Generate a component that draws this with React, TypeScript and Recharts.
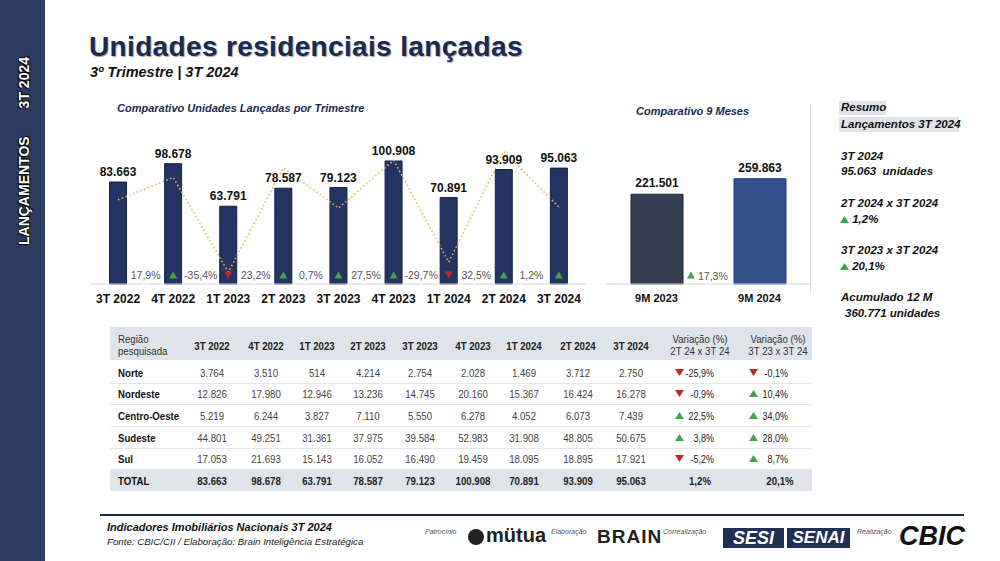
import React from 'react';
import {
  ComposedChart,
  BarChart,
  Bar,
  Line,
  XAxis,
  YAxis,
  Cell,
  LabelList,
} from 'recharts';

// dados trimestrais
const quarters = ['3T 2022', '4T 2022', '1T 2023', '2T 2023', '3T 2023', '4T 2023', '1T 2024', '2T 2024', '3T 2024'];
const launched = [83663, 98678, 63791, 78587, 79123, 100908, 70891, 93909, 95063];
// variação trimestral (%) - o primeiro ponto não tem rótulo
const qoqVar = [5.3, 17.9, -35.4, 23.2, 0.7, 27.5, -29.7, 32.5, 1.2];

// comparativo 9 meses
const nineMonths = ['9M 2023', '9M 2024'];
const nineMonthValues = [221501, 259863];
const nineMonthVar = 17.3;

// tabela por região
const regions = ['Norte', 'Nordeste', 'Centro-Oeste', 'Sudeste', 'Sul'];
const norte = [3764, 3510, 514, 4214, 2754, 2028, 1469, 3712, 2750];
const nordeste = [12826, 17980, 12946, 13236, 14745, 20160, 15367, 16424, 16278];
const centroOeste = [5219, 6244, 3827, 7110, 5550, 6278, 4052, 6073, 7439];
const sudeste = [44801, 49251, 31361, 37975, 39584, 52983, 31908, 48805, 50675];
const sul = [17053, 21693, 15143, 16052, 16490, 19459, 18095, 18895, 17921];
const varQoQ = [-25.9, -0.9, 22.5, 3.8, -5.2];
const varYoY = [-0.1, 10.4, 34.0, 28.0, 8.7];
const totalVarQoQ = 1.2;
const totalVarYoY = 20.1;
const accum12m = 360771;

const NAVY = '#1b2a4e';
const BAR = '#243462';
const GREEN = '#3fa44e';
const RED = '#c1272d';
const SANS = "'Liberation Sans', Arial, sans-serif";

const fmt = (n: number) => String(n).replace(/\B(?=(\d{3})+(?!\d))/g, '.');
const fmtPct = (v: number) => v.toFixed(1).replace('.', ',') + '%';

const chartData = quarters.map((q, i) => ({
  name: q,
  value: launched[i],
  variacao: qoqVar[i],
  rotulo: i === 0 ? null : qoqVar[i],
}));

const nineData = nineMonths.map((m, i) => ({ name: m, value: nineMonthValues[i] }));

const regionRows = [norte, nordeste, centroOeste, sudeste, sul];
const colCenters = [212, 266, 317, 368, 420, 473, 524, 578, 631];
const rowCenters = [373, 394, 416, 438, 459];

function tri(cx: number, cy: number, up: boolean, s = 4) {
  return up
    ? `M${cx - s},${cy + s * 0.9} L${cx + s},${cy + s * 0.9} L${cx},${cy - s * 0.9} Z`
    : `M${cx - s},${cy - s * 0.9} L${cx + s},${cy - s * 0.9} L${cx},${cy + s * 0.9} Z`;
}

const Tri = ({ up, size = 9 }: { up: boolean; size?: number }) => (
  <svg width={size} height={size} viewBox="0 0 10 10" style={{ display: 'inline-block', verticalAlign: 'middle' }}>
    <path d={up ? 'M0,9 L10,9 L5,1 Z' : 'M0,1 L10,1 L5,9 Z'} fill={up ? GREEN : RED} />
  </svg>
);

const VarLabel = (props: any) => {
  const { x, y, width, height, value } = props;
  if (value === null || value === undefined) return null;
  const v = Number(value);
  const cx = Number(x) + Number(width) / 2;
  const base = Number(y) + Number(height);
  return (
    <g>
      <path d={tri(cx, base - 9, v >= 0)} fill={v >= 0 ? GREEN : RED} />
      <text x={cx - 27.5} y={base - 8} textAnchor="middle" dominantBaseline="middle" fontSize={10.5} fill="#555" fontFamily={SANS}>
        {fmtPct(v)}
      </text>
    </g>
  );
};

const NineVarLabel = (props: any) => {
  const { x, y, height, index } = props;
  if (index !== 1) return null;
  const base = Number(y) + Number(height);
  const left = Number(x);
  return (
    <g>
      <path d={tri(left - 43, base - 9, nineMonthVar >= 0)} fill={GREEN} />
      <text x={left - 36} y={base - 7} dominantBaseline="middle" fontSize={10.5} fill="#555" fontFamily={SANS}>
        {fmtPct(nineMonthVar)}
      </text>
    </g>
  );
};

const abs = (left: number, top: number, extra: React.CSSProperties = {}): React.CSSProperties => ({
  position: 'absolute',
  left,
  top,
  ...extra,
});

// texto "estreito" da tabela: Arial comprimido horizontalmente
type Align = 'left' | 'center' | 'right';
const narrow = (left: number, top: number, align: Align, extra: React.CSSProperties = {}, sx = 0.84): React.CSSProperties => ({
  position: 'absolute',
  left,
  top,
  fontFamily: SANS,
  fontSize: 11.5,
  color: '#444',
  whiteSpace: 'nowrap',
  transform: `translate(${align === 'left' ? '0' : align === 'center' ? '-50%' : '-100%'}, -50%) scaleX(${sx})`,
  transformOrigin: `${align} center`,
  ...extra,
});

export default function App() {
  const summary = { fontFamily: SANS, fontSize: 11.5, fontStyle: 'italic' as const, fontWeight: 700, color: '#111', whiteSpace: 'nowrap' as const };
  const footSmall: React.CSSProperties = { fontFamily: SANS, fontSize: 7, fontStyle: 'italic', color: '#555', whiteSpace: 'nowrap' };
  const boldCell: React.CSSProperties = { fontWeight: 700, color: '#222' };
  const varCell: React.CSSProperties = { color: '#222' };

  return (
    <div style={{ position: 'absolute', left: 0, top: 0, width: 1000, height: 561, background: '#fff', overflow: 'hidden' }}>
      {/* barra lateral */}
      <div style={abs(0, 0, { width: 45, height: 561, background: '#2b3c60' })} />
      <div
        style={abs(-76, 141, {
          width: 200,
          height: 20,
          lineHeight: '20px',
          textAlign: 'center',
          transform: 'rotate(-90deg)',
          fontFamily: SANS,
          fontWeight: 900,
          fontSize: 14,
          color: '#fff',
          whiteSpace: 'nowrap',
          textShadow: '0 0 1px #000, 1px 1px 1px #000, -1px -1px 1px #000',
        })}
      >
        LANÇAMENTOS<span style={{ display: 'inline-block', width: 28 }} />3T 2024
      </div>

      {/* título */}
      <div style={abs(89, 31, { fontFamily: SANS, fontWeight: 900, fontSize: 28, letterSpacing: 0.35, color: NAVY, whiteSpace: 'nowrap', textShadow: '1px 1px 1px #9ba3b4' })}>
        Unidades residenciais lançadas
      </div>
      <div style={abs(90, 64, { fontFamily: SANS, fontWeight: 700, fontStyle: 'italic', fontSize: 14.5, color: '#111', whiteSpace: 'nowrap' })}>
        3º Trimestre | 3T 2024
      </div>

      {/* gráfico trimestral */}
      <div style={abs(117, 102, { fontFamily: SANS, fontWeight: 700, fontStyle: 'italic', fontSize: 11, color: NAVY, whiteSpace: 'nowrap' })}>
        Comparativo Unidades Lançadas por Trimestre
      </div>
      <div style={abs(80, 95)}>
        <ComposedChart width={520} height={215} data={chartData} margin={{ top: 42.7, right: 13.5, left: 10.5, bottom: 0 }}>
          <XAxis
            dataKey="name"
            height={26}
            axisLine={{ stroke: '#d9d9d9' }}
            tickLine={false}
            tickMargin={4}
            interval={0}
            tick={{ fill: '#111', fontSize: 12, fontWeight: 700, fontFamily: SANS }}
          />
          <YAxis yAxisId="v" hide domain={[0, 120000]} />
          <YAxis yAxisId="var" hide orientation="right" domain={[-42, 40.2]} />
          <Bar yAxisId="v" dataKey="value" barSize={17} fill={BAR} stroke="#17224a" strokeWidth={1} isAnimationActive={false}>
            <LabelList dataKey="value" position="top" offset={6} formatter={(v: any) => fmt(Number(v))} style={{ fill: '#111', fontSize: 12, fontWeight: 700, fontFamily: SANS }} />
            <LabelList dataKey="rotulo" content={VarLabel} />
          </Bar>
          <Line
            yAxisId="var"
            dataKey="variacao"
            type="linear"
            stroke="#f2b544"
            strokeWidth={1.6}
            strokeDasharray="1.5 2.5"
            dot={false}
            activeDot={false}
            isAnimationActive={false}
          />
        </ComposedChart>
      </div>

      {/* comparativo 9 meses */}
      <div style={abs(636, 105, { fontFamily: SANS, fontWeight: 700, fontStyle: 'italic', fontSize: 11, color: NAVY, whiteSpace: 'nowrap' })}>
        Comparativo 9 Meses
      </div>
      <div style={abs(600, 95)}>
        <BarChart width={220} height={215} data={nineData} margin={{ top: 42.7, right: 9, left: 5, bottom: 0 }}>
          <XAxis
            dataKey="name"
            height={26}
            axisLine={{ stroke: '#d9d9d9' }}
            tickLine={false}
            tickMargin={4}
            tick={{ fill: '#111', fontSize: 11, fontWeight: 700, fontFamily: SANS }}
          />
          <YAxis hide domain={[0, 361000]} />
          <Bar dataKey="value" barSize={52} isAnimationActive={false}>
            <Cell fill="#353f51" stroke="#1d2433" />
            <Cell fill="#35518d" stroke="#1e3a8c" />
            <LabelList dataKey="value" position="top" offset={7} formatter={(v: any) => fmt(Number(v))} style={{ fill: '#111', fontSize: 12, fontWeight: 700, fontFamily: SANS }} />
            <LabelList dataKey="value" content={NineVarLabel} />
          </Bar>
        </BarChart>
      </div>
      <div style={abs(810, 104, { width: 1, height: 190, background: '#e2e2e2' })} />

      {/* resumo */}
      <div style={abs(839, 101, { width: 47, height: 14, background: '#dfe3ea' })} />
      <div style={abs(839, 117, { width: 120, height: 15, background: '#dfe3ea' })} />
      <div style={abs(841, 101, summary)}>Resumo</div>
      <div style={abs(841, 118, summary)}>Lançamentos 3T 2024</div>
      <div style={abs(841, 150, summary)}>3T 2024</div>
      <div style={abs(841, 165, summary)}>{fmt(launched[8])}&nbsp; unidades</div>
      <div style={abs(841, 197, summary)}>2T 2024 x 3T 2024</div>
      <div style={abs(840, 213, summary)}><Tri up={totalVarQoQ >= 0} /> {fmtPct(totalVarQoQ)}</div>
      <div style={abs(841, 244, summary)}>3T 2023 x 3T 2024</div>
      <div style={abs(840, 260, summary)}><Tri up={totalVarYoY >= 0} /> {fmtPct(totalVarYoY)}</div>
      <div style={abs(841, 291, summary)}>Acumulado 12 M</div>
      <div style={abs(845, 307, summary)}>{fmt(accum12m)} unidades</div>

      {/* tabela */}
      <div style={abs(110, 327, { width: 702, height: 33, background: '#dfe3ea' })} />
      {rowCenters.map((rc, i) => (
        <div key={'ln' + i} style={abs(110, rc + 10, { width: 702, height: 1, background: '#e3e6ec' })} />
      ))}
      <div style={abs(110, 470, { width: 702, height: 21, background: '#dfe3ea' })} />
      <div style={narrow(118, 345, 'left', { color: '#333', lineHeight: '11.5px' })}>
        Região
        <br />
        pesquisada
      </div>
      {quarters.map((q, i) => (
        <div key={'h' + i} style={narrow(colCenters[i], 346, 'center', boldCell)}>{q}</div>
      ))}
      <div style={narrow(700, 345, 'center', { color: '#333', textAlign: 'center', lineHeight: '11.5px' })}>
        Variação (%)
        <br />
        2T 24 x 3T 24
      </div>
      <div style={narrow(778, 345, 'center', { color: '#333', textAlign: 'center', lineHeight: '11.5px' })}>
        Variação (%)
        <br />
        3T 23 x 3T 24
      </div>
      {regions.map((r, ri) => (
        <React.Fragment key={r}>
          <div style={narrow(118, rowCenters[ri], 'left', { color: '#111', fontWeight: 700 })}>{r}</div>
          {regionRows[ri].map((v, ci) => (
            <div key={ci} style={narrow(colCenters[ci], rowCenters[ri], 'center')}>{fmt(v)}</div>
          ))}
          <div style={abs(674.5, rowCenters[ri] - 5, { lineHeight: 0 })}><Tri up={varQoQ[ri] >= 0} size={9} /></div>
          <div style={narrow(714, rowCenters[ri], 'right', varCell, 0.78)}>{fmtPct(varQoQ[ri])}</div>
          <div style={abs(748.5, rowCenters[ri] - 5, { lineHeight: 0 })}><Tri up={varYoY[ri] >= 0} size={9} /></div>
          <div style={narrow(788, rowCenters[ri], 'right', varCell, 0.78)}>{fmtPct(varYoY[ri])}</div>
        </React.Fragment>
      ))}
      <div style={narrow(118, 481, 'left', { color: '#111', fontWeight: 700 })}>TOTAL</div>
      {launched.map((v, ci) => (
        <div key={'t' + ci} style={narrow(colCenters[ci], 481, 'center', boldCell)}>{fmt(v)}</div>
      ))}
      <div style={narrow(700, 481, 'center', boldCell)}>{fmtPct(totalVarQoQ)}</div>
      <div style={narrow(780, 481, 'center', boldCell)}>{fmtPct(totalVarYoY)}</div>

      {/* rodapé */}
      <div style={abs(100, 514, { width: 864, height: 2, background: NAVY })} />
      <div style={abs(107, 521, { fontFamily: SANS, fontSize: 11, fontWeight: 700, fontStyle: 'italic', color: '#111', whiteSpace: 'nowrap' })}>
        Indicadores Imobiliários Nacionais 3T 2024
      </div>
      <div style={abs(107, 536, { fontFamily: SANS, fontSize: 9.7, fontStyle: 'italic', color: '#222', whiteSpace: 'nowrap' })}>
        Fonte: CBIC/CII / Elaboração: Brain Inteligência Estratégica
      </div>
      <div style={abs(425, 528, footSmall)}>Patrocínio</div>
      <div style={abs(468, 529, { width: 16, height: 16, borderRadius: 8, background: '#222' })} />
      <div style={abs(486, 524, { fontFamily: SANS, fontWeight: 900, fontSize: 20, color: '#222', whiteSpace: 'nowrap', lineHeight: '22px' })}>mütua</div>
      <div style={abs(551, 528, footSmall)}>Elaboração</div>
      <div style={abs(597, 526, { fontFamily: SANS, fontWeight: 900, fontSize: 19, letterSpacing: 1, color: '#222', whiteSpace: 'nowrap', lineHeight: '22px' })}>BRAIN</div>
      <div style={abs(663, 528, footSmall)}>Correalização</div>
      <div style={abs(723, 528, { width: 61, height: 20, background: '#1f2f55', color: '#fff', fontFamily: SANS, fontWeight: 900, fontStyle: 'italic', fontSize: 18, lineHeight: '20px', textAlign: 'center' })}>SESI</div>
      <div style={abs(787, 528, { width: 63, height: 20, background: '#1f2f55', color: '#fff', fontFamily: SANS, fontWeight: 900, fontStyle: 'italic', fontSize: 17, lineHeight: '20px', textAlign: 'center' })}>SENAI</div>
      <div style={abs(857, 528, footSmall)}>Realização</div>
      <div style={abs(899, 522, { fontFamily: SANS, fontWeight: 900, fontStyle: 'italic', fontSize: 27, color: '#111', whiteSpace: 'nowrap', lineHeight: '28px' })}>CBIC</div>
    </div>
  );
}
